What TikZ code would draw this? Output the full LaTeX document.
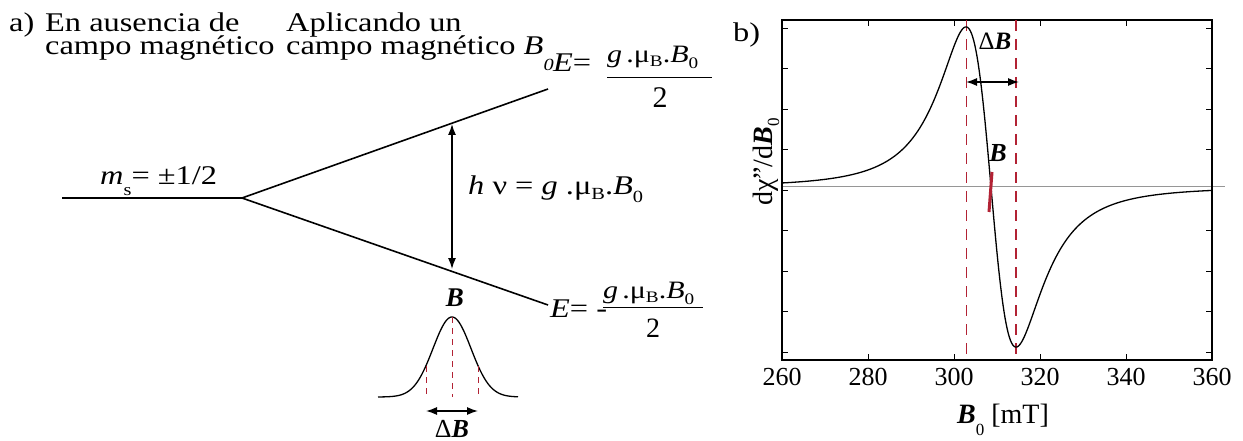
\documentclass[tikz,border=0pt]{standalone}
\usepackage{fontspec}
\setmainfont{Liberation Serif}
\newfontfamily\wide{Liberation Serif}[FakeStretch=1.2]
\usetikzlibrary{arrows.meta}
\definecolor{epred}{RGB}{178,34,52}
\definecolor{zgray}{RGB}{150,150,150}
\newcommand{\subl}[2]{\raisebox{#1}{\fontsize{16}{16}\selectfont #2}}
\newcommand{\bB}{\textbf{\textit{B}}}
\newcommand{\gmuB}{\textit{g}\,.μ\subl{-4pt}{B}.\textit{B}\subl{-6pt}{0}}
\newcommand{\twolines}[2]{\vtop{\baselineskip=23pt\lineskiplimit=-50pt\lineskip=0pt\hbox{#1}\hbox{#2}}}
\tikzset{
  txt/.style={inner sep=0pt, anchor=base west, font=\wide\fontsize{27}{27}\selectfont},
  frac/.style={inner sep=0pt, anchor=base west, font=\wide\fontsize{25}{25}\selectfont},
  tlab/.style={inner sep=0pt, anchor=base, font=\fontsize{26}{26}\selectfont},
  level/.style={line width=1.6pt},
  dblarrow/.style={line width=1.3pt, {Latex[length=11pt,width=8pt]}-{Latex[length=11pt,width=8pt]}},
  reddash/.style={epred, line width=1.3pt, dash pattern=on 11pt off 8pt},
  tick/.style={line width=0.8pt}
}
\begin{document}
\begin{tikzpicture}[x=1pt,y=-1pt]
\useasboundingbox (0,0) rectangle (1243,441);
% ---------- part a ----------
\node[txt] (la) at (9,32) {a)};
\node[txt] (t1) at (45,32) {\twolines{En ausencia de}{campo magnético}};
\node[txt] (t3) at (286,32) {\twolines{Aplicando un}{campo magnético \textit{B}\raisebox{-16pt}{\fontsize{17}{17}\selectfont\textit{0}}}};
% levels
\coordinate (L0) at (62,198);
\coordinate (S) at (242,198);
\coordinate (U) at (548,89);
\coordinate (D) at (548,305);
\draw[level] (L0) -- (S) -- (U);
\draw[level] (S) -- (D);
\node[txt] (ms) at (100,185) {\textit{m}\raisebox{-11pt}{\fontsize{17}{17}\selectfont s}= ±1/2};
% upper energy
\node[txt] (Eu) at (553,72) {\textit{E}=};
\node[frac] (nu) at (607,63) {\gmuB};
\coordinate (fu1) at (607,78);
\coordinate (fu2) at (712,78);
\draw[line width=1pt] (fu1) -- (fu2);
\node[inner sep=0pt, anchor=base, font=\fontsize{30}{30}\selectfont] (du) at (660,108) {2};
% lower energy
\node[txt] (El) at (550,317) {\textit{E}= -};
\node[frac] (nl) at (603,298) {\gmuB};
\coordinate (fl1) at (603,307);
\coordinate (fl2) at (703,307);
\draw[line width=1pt] (fl1) -- (fl2);
\node[inner sep=0pt, anchor=base, font=\fontsize{28}{28}\selectfont] (dl) at (653,337) {2};
% transition arrow
\coordinate (A1) at (452,124);
\coordinate (A2) at (452,269);
\draw[dblarrow] (A1) -- (A2);
\node[txt] (hv) at (468,195) {\textit{h} ν = \textit{g} .μ\raisebox{-5pt}{\fontsize{17}{17}\selectfont B}.\textit{B}\raisebox{-7pt}{\fontsize{17}{17}\selectfont 0}};
% gaussian
\draw[line width=1.3pt] plot[domain=378:518, samples=120, smooth] ({\x},{397-80*exp(-((\x-452)^2)/722)});
\coordinate (gp) at (452,317);
\coordinate (gb) at (452,397);
\coordinate (gl1) at (426,366);
\coordinate (gl2) at (426,397);
\coordinate (gr1) at (478,366);
\coordinate (gr2) at (478,397);
\draw[epred, line width=1pt, dash pattern=on 6pt off 5pt] (gp) -- (gb);
\draw[epred, line width=1pt, dash pattern=on 6pt off 5pt] (gl1) -- (gl2);
\draw[epred, line width=1pt, dash pattern=on 6pt off 5pt] (gr1) -- (gr2);
\node[inner sep=0pt, anchor=base, font=\fontsize{27}{27}\selectfont] (gB) at (455,306) {\bB};
\coordinate (ga1) at (426,411);
\coordinate (ga2) at (478,411);
\draw[dblarrow] (ga1) -- (ga2);
\node[inner sep=0pt, anchor=base, font=\fontsize{26}{26}\selectfont] (gdB) at (452,437) {Δ\bB};
% ---------- part b ----------
\node[txt] (lb) at (733,42) {b)};
\coordinate (bl) at (782,360);
\coordinate (tr) at (1212,20);
\coordinate (z1) at (782,187);
\coordinate (z2) at (1225,187);
\draw[zgray, line width=1pt] (z1) -- (z2);
% ticks
\foreach \k in {0,...,8} {
  \draw[tick] (782,{28+40.5*\k}) -- (788,{28+40.5*\k});
  \draw[tick] (1206,{28+40.5*\k}) -- (1212,{28+40.5*\k});
}
\foreach \k/\v in {0/260,1/280,2/300,3/320,4/340,5/360} {
  \draw[tick] ({782+86*\k},360) -- ({782+86*\k},354);
  \draw[tick] ({782+86*\k},20) -- ({782+86*\k},26);
  \node[tlab] (xt\k) at ({782+86*\k},385) {\v};
}
\draw[line width=1.5pt] (bl) rectangle (tr);
% dashed lines
\coordinate (d1t) at (966,20);
\coordinate (d1b) at (966,357);
\coordinate (d2t) at (1016,20);
\coordinate (d2b) at (1016,360);
\draw[reddash, line width=1pt] (d1t) -- (d1b);
\draw[reddash] (d2t) -- (d2b);
% curve
\draw[line width=1.3pt] plot[domain=782:1212, samples=400] ({\x},{187+493*((\x-991)/43.3)/(1+((\x-991)/43.3)^2)^2});
% marker
\coordinate (m1) at (992,172);
\coordinate (m2) at (989,212);
\draw[epred, line width=3pt] (m1) -- (m2);
\node[inner sep=0pt, anchor=base, font=\fontsize{26}{26}\selectfont] (cB) at (998,162) {\bB};
% Delta B
\coordinate (da1) at (966,82);
\coordinate (da2) at (1019,82);
\draw[dblarrow] (da1) -- (da2);
\node[inner sep=0pt, anchor=base, font=\fontsize{25}{25}\selectfont] (cdB) at (995,50) {Δ\bB};
% axis labels
\node[inner sep=0pt, anchor=base west, font=\fontsize{28}{28}\selectfont] (xl) at (957,423) {\bB\raisebox{-12pt}{\fontsize{17}{17}\selectfont 0} [mT]};
\node[inner sep=0pt, rotate=90, anchor=base, font=\fontsize{28}{28}\selectfont] (yl) at (772,162) {dχ"/d\bB\raisebox{-7pt}{\fontsize{17}{17}\selectfont 0}};
\end{tikzpicture}
\end{document}
